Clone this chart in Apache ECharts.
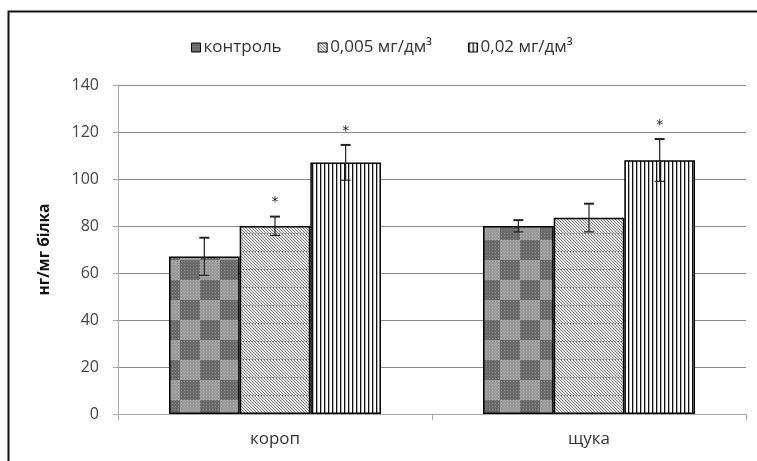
<!DOCTYPE html>
<html><head><meta charset="utf-8">
<script src="https://cdn.jsdelivr.net/npm/echarts@6/dist/echarts.min.js"></script>
<style>html,body{margin:0;padding:0;background:#fff}#c{width:757px;height:461px}</style>
</head><body><div id="c"></div>
<script>
const categories = ['короп', 'щука'];
const seriesNames = ['контроль', '0,005 мг/дм³', '0,02 мг/дм³'];
const controlValues = [67, 80];
const controlErrors = [8, 2.5];
const lowValues = [80, 83.5];
const lowErrors = [4, 6];
const highValues = [107, 108];
const highErrors = [7.5, 9];
const lowStars = [1, 0];
const highStars = [1, 1];
const controlStars = [0, 0];
const yTicks = [0, 20, 40, 60, 80, 100, 120, 140];

function mk(w, h, draw) {
  const c = document.createElement('canvas'); c.width = w; c.height = h;
  draw(c.getContext('2d')); return c;
}
const checker = mk(40, 40, g => {
  g.fillStyle = '#9a9a9a'; g.fillRect(0, 0, 40, 40);
  g.fillStyle = '#6a6a6a'; g.fillRect(0, 0, 20, 20); g.fillRect(20, 20, 20, 20);
  g.fillStyle = 'rgba(255,255,255,0.22)';
  for (let x = 0; x < 40; x += 3) for (let y = 0; y < 40; y += 3) g.fillRect(x, y, 1, 1);
});
const hatch = mk(18, 18, g => {
  g.fillStyle = '#e2e2e2'; g.fillRect(0, 0, 18, 18);
  g.strokeStyle = '#8a8a8a'; g.lineWidth = 1;
  for (let k = -18; k < 36; k += 3) { g.beginPath(); g.moveTo(k, 0); g.lineTo(k + 18, 18); g.stroke(); }
  g.fillStyle = '#777';
  for (let x = 0; x < 18; x += 3) g.fillRect(x, 17, 1, 1);
});
const stripes = mk(4, 4, g => {
  g.fillStyle = '#fff'; g.fillRect(0, 0, 4, 4);
  g.fillStyle = '#111'; g.fillRect(0, 0, 1.3, 4);
});
const fills = [checker, hatch, stripes];
const vals = [controlValues, lowValues, highValues];
const errs = [controlErrors, lowErrors, highErrors];
const stars = [controlStars, lowStars, highStars];
const gapRatio = 0.325;

const series = [];
seriesNames.forEach((n, i) => {
  series.push({
    name: n, type: 'bar', data: vals[i], barGap: '0%', barCategoryGap: '32.5%',
    itemStyle: { color: { image: fills[i], repeat: 'repeat' }, borderColor: '#000', borderWidth: 1.5 },
    animation: false
  });
});
seriesNames.forEach((n, i) => {
  series.push({
    type: 'custom', name: n + '_err', z: 10, animation: false, silent: true,
    data: categories.map((c, j) => [j, vals[i][j], errs[i][j], stars[i][j]]),
    renderItem: (params, api) => {
      const j = api.value(0), v = api.value(1), e = api.value(2), s = api.value(3);
      const band = api.size([1, 0])[0];
      const bw = band * (1 - gapRatio) / 3;
      const cx = api.coord([j, 0])[0] - 1.5 * bw + (i + 0.5) * bw;
      const yt = api.coord([j, v + e])[1], yb = api.coord([j, v - e])[1];
      const st = { stroke: '#222', lineWidth: 1.2 };
      const ch = [
        { type: 'line', shape: { x1: cx, y1: yt, x2: cx, y2: yb }, style: st },
        { type: 'line', shape: { x1: cx - 5, y1: yt, x2: cx + 5, y2: yt }, style: { stroke: '#222', lineWidth: 2 } },
        { type: 'line', shape: { x1: cx - 5, y1: yb, x2: cx + 5, y2: yb }, style: st }
      ];
      if (s) ch.push({ type: 'text', style: { text: '*', x: cx, y: yt - 14, align: 'center', verticalAlign: 'middle', font: '14px "DejaVu Sans"', fill: '#222' } });
      return { type: 'group', children: ch };
    }
  });
});

const chart = echarts.init(document.getElementById('c'));
chart.setOption({
  animation: false,
  backgroundColor: '#fff',
  graphic: [{ type: 'rect', shape: { x: 8.5, y: 11.5, width: 800, height: 500 }, style: { fill: 'none', stroke: '#111', lineWidth: 2 }, z: 100 }],
  legend: {
    data: seriesNames, top: 34, left: 186, icon: 'rect', itemWidth: 9, itemHeight: 9, itemGap: 36,
    textStyle: { fontFamily: '"Open Sans", sans-serif', fontSize: 17, color: '#333', padding: [0, 0, 0, -2] },
    itemStyle: { borderColor: '#000', borderWidth: 1 }
  },
  grid: { left: 118, right: 11, top: 85, bottom: 47 },
  xAxis: {
    type: 'category', data: categories,
    axisLine: { lineStyle: { color: '#aaa', width: 1 } },
    axisTick: { show: true, length: 6, lineStyle: { color: '#aaa' } },
    axisLabel: { fontFamily: '"Open Sans", sans-serif', fontSize: 17, color: '#333', margin: 17 }
  },
  yAxis: {
    type: 'value', min: yTicks[0], max: yTicks[yTicks.length - 1], interval: 20,
    name: 'нг/мг білка', nameLocation: 'middle', nameGap: 65, nameRotate: 90,
    nameTextStyle: { fontFamily: '"Open Sans", sans-serif', fontSize: 15.5, fontWeight: 'bold', color: '#111' },
    axisLine: { show: true, lineStyle: { color: '#aaa' } },
    axisTick: { show: true, length: 5, lineStyle: { color: '#aaa' } },
    axisLabel: { fontFamily: '"Open Sans", sans-serif', fontSize: 16, color: '#444', margin: 19 },
    splitLine: { lineStyle: { color: '#888', width: 1 } }
  },
  series: series
});
</script></body></html>
